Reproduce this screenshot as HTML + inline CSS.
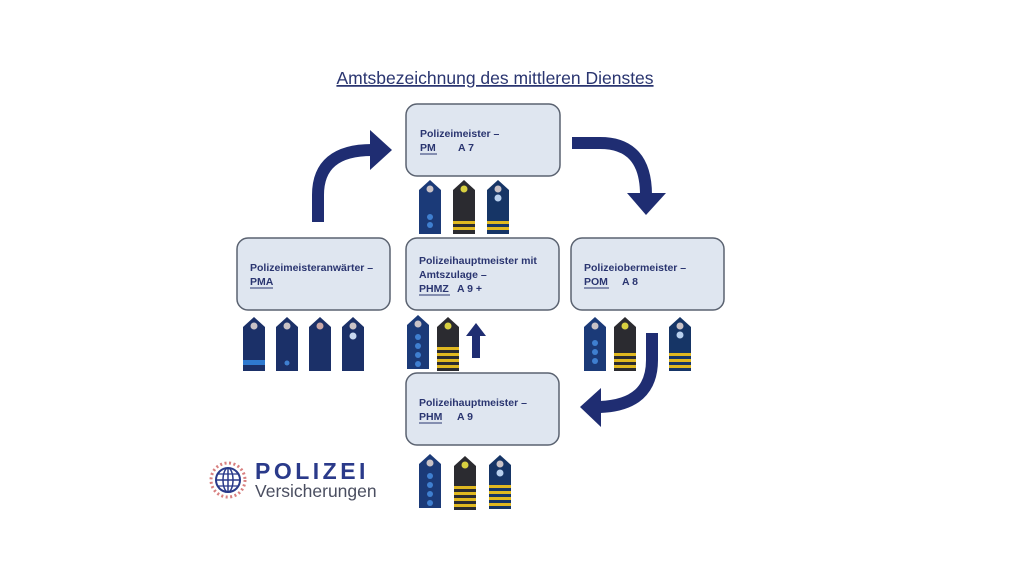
<!DOCTYPE html>
<html><head><meta charset="utf-8"><style>
html,body{margin:0;padding:0;background:#fff;}
svg{display:block;}
text{font-family:"Liberation Sans",sans-serif;}
</style></head><body>
<svg width="1030" height="579" viewBox="0 0 1030 579" xmlns="http://www.w3.org/2000/svg">
<defs>
<path id="ep" d="M0,10 L11,0 L22,10 L22,54 L0,54 Z"/>
</defs>
<text x="495" y="84" text-anchor="middle" font-size="17.5" fill="#2a3570" text-decoration="underline">Amtsbezeichnung des mittleren Dienstes</text>

<g fill="#dfe6f0" stroke="#5a6270" stroke-width="1.5">
<rect x="406" y="104" width="154" height="72" rx="11"/>
<rect x="237" y="238" width="153" height="72" rx="11"/>
<rect x="406" y="238" width="153" height="72" rx="11"/>
<rect x="571" y="238" width="153" height="72" rx="11"/>
<rect x="406" y="373" width="153" height="72" rx="11"/>
</g>
<g font-size="10.5" font-weight="bold" fill="#2a3570">
<text x="420" y="137">Polizeimeister –</text>
<text x="420" y="151">PM</text><text x="458" y="151">A 7</text>
<line x1="420" y1="154" x2="437" y2="154" stroke="#2a3570" stroke-width="1"/>
<text x="250" y="271">Polizeimeisteranwärter –</text>
<text x="250" y="285">PMA</text>
<line x1="250" y1="288" x2="273" y2="288" stroke="#2a3570" stroke-width="1"/>
<text x="419" y="264">Polizeihauptmeister mit</text>
<text x="419" y="278">Amtszulage –</text>
<text x="419" y="292">PHMZ</text><text x="457" y="292">A 9 +</text>
<line x1="419" y1="295" x2="450" y2="295" stroke="#2a3570" stroke-width="1"/>
<text x="584" y="271">Polizeiobermeister –</text>
<text x="584" y="285">POM</text><text x="622" y="285">A 8</text>
<line x1="584" y1="288" x2="609" y2="288" stroke="#2a3570" stroke-width="1"/>
<text x="419" y="406">Polizeihauptmeister –</text>
<text x="419" y="420">PHM</text><text x="457" y="420">A 9</text>
<line x1="419" y1="423" x2="442" y2="423" stroke="#2a3570" stroke-width="1"/>
</g>

<!-- arrows -->
<g fill="none" stroke="#1f2d72" stroke-width="12">
<path d="M318,222 L318,195 Q318,150 372,150"/>
<path d="M572,143 L600,143 Q646,143 646,195"/>
<path d="M652,333 L652,360 Q652,405 600,407"/>
</g>
<g fill="#1f2d72">
<polygon points="370,130 392,150 370,170"/>
<polygon points="627,193 666,193 646,215"/>
<polygon points="601,388 601,427 580,407"/>
<polygon points="476,323 466,336 472,336 472,358 480,358 480,336 486,336"/>
</g>

<!-- epaulettes -->
<g>
<g transform="translate(419,180)"><use href="#ep" fill="#1b3a78"/><circle cx="11" cy="9" r="3.5" fill="#c9c2c6"/><circle cx="11" cy="37" r="3" fill="#3f7fd0"/><circle cx="11" cy="45" r="3" fill="#3f7fd0"/></g>
<g transform="translate(453,180)"><use href="#ep" fill="#2b2b30"/><circle cx="11" cy="9" r="3.5" fill="#d8d040"/><rect x="0" y="41" width="22" height="3" fill="#e0b820"/><rect x="0" y="47" width="22" height="3" fill="#e0b820"/></g>
<g transform="translate(487,180)"><use href="#ep" fill="#163566"/><circle cx="11" cy="9" r="3.5" fill="#c9c2c6"/><circle cx="11" cy="18" r="3.5" fill="#b8d0ee"/><rect x="0" y="41" width="22" height="3" fill="#e0b820"/><rect x="0" y="47" width="22" height="3" fill="#e0b820"/></g>
<g transform="translate(243,317)"><use href="#ep" fill="#1b3068"/><circle cx="11" cy="9" r="3.5" fill="#c9c2c6"/><rect x="0" y="43" width="22" height="5" fill="#2f7ad0"/></g>
<g transform="translate(276,317)"><use href="#ep" fill="#1b3068"/><circle cx="11" cy="9" r="3.5" fill="#c9c2c6"/><circle cx="11" cy="46" r="2.5" fill="#3f7fd0"/></g>
<g transform="translate(309,317)"><use href="#ep" fill="#1b3068"/><circle cx="11" cy="9" r="3.5" fill="#c9a7a7"/></g>
<g transform="translate(342,317)"><use href="#ep" fill="#1b3068"/><circle cx="11" cy="9" r="3.5" fill="#c9c2c6"/><circle cx="11" cy="19" r="3.5" fill="#c8d8f0"/></g>
<g transform="translate(407,315)"><use href="#ep" fill="#1b3a78"/><circle cx="11" cy="9" r="3.5" fill="#c9c2c6"/><circle cx="11" cy="22" r="3" fill="#3f7fd0"/><circle cx="11" cy="31" r="3" fill="#3f7fd0"/><circle cx="11" cy="40" r="3" fill="#3f7fd0"/><circle cx="11" cy="49" r="3" fill="#3f7fd0"/></g>
<g transform="translate(437,317)"><use href="#ep" fill="#2b2b30"/><circle cx="11" cy="9" r="3.5" fill="#d8d040"/><rect x="0" y="30" width="22" height="3" fill="#e0b820"/><rect x="0" y="36" width="22" height="3" fill="#e0b820"/><rect x="0" y="42" width="22" height="3" fill="#e0b820"/><rect x="0" y="48" width="22" height="3" fill="#e0b820"/></g>
<g transform="translate(584,317)"><use href="#ep" fill="#1b3a78"/><circle cx="11" cy="9" r="3.5" fill="#c9c2c6"/><circle cx="11" cy="26" r="3" fill="#3f7fd0"/><circle cx="11" cy="35" r="3" fill="#3f7fd0"/><circle cx="11" cy="44" r="3" fill="#3f7fd0"/></g>
<g transform="translate(614,317)"><use href="#ep" fill="#2b2b30"/><circle cx="11" cy="9" r="3.5" fill="#d8d040"/><rect x="0" y="36" width="22" height="3" fill="#e0b820"/><rect x="0" y="42" width="22" height="3" fill="#e0b820"/><rect x="0" y="48" width="22" height="3" fill="#e0b820"/></g>
<g transform="translate(669,317)"><use href="#ep" fill="#163566"/><circle cx="11" cy="9" r="3.5" fill="#c9c2c6"/><circle cx="11" cy="18" r="3.5" fill="#b8d0ee"/><rect x="0" y="36" width="22" height="3" fill="#e0b820"/><rect x="0" y="42" width="22" height="3" fill="#e0b820"/><rect x="0" y="48" width="22" height="3" fill="#e0b820"/></g>
<g transform="translate(419,454)"><use href="#ep" fill="#1b3a78"/><circle cx="11" cy="9" r="3.5" fill="#c9c2c6"/><circle cx="11" cy="22" r="3" fill="#3f7fd0"/><circle cx="11" cy="31" r="3" fill="#3f7fd0"/><circle cx="11" cy="40" r="3" fill="#3f7fd0"/><circle cx="11" cy="49" r="3" fill="#3f7fd0"/></g>
<g transform="translate(454,456)"><use href="#ep" fill="#2b2b30"/><circle cx="11" cy="9" r="3.5" fill="#d8d040"/><rect x="0" y="30" width="22" height="3" fill="#e0b820"/><rect x="0" y="36" width="22" height="3" fill="#e0b820"/><rect x="0" y="42" width="22" height="3" fill="#e0b820"/><rect x="0" y="48" width="22" height="3" fill="#e0b820"/></g>
<g transform="translate(489,455)"><use href="#ep" fill="#163566"/><circle cx="11" cy="9" r="3.5" fill="#c9c2c6"/><circle cx="11" cy="18" r="3.5" fill="#b8d0ee"/><rect x="0" y="30" width="22" height="3" fill="#e0b820"/><rect x="0" y="36" width="22" height="3" fill="#e0b820"/><rect x="0" y="42" width="22" height="3" fill="#e0b820"/><rect x="0" y="48" width="22" height="3" fill="#e0b820"/></g>
</g>

<!-- logo -->
<g transform="translate(228,480)">
<circle r="17" fill="none" stroke="#d88080" stroke-width="3" stroke-dasharray="2 2.5"/>
<circle r="12" fill="none" stroke="#2a3a8a" stroke-width="2"/>
<ellipse rx="5" ry="12" fill="none" stroke="#2a3a8a" stroke-width="1.5"/>
<line x1="-12" y1="0" x2="12" y2="0" stroke="#2a3a8a" stroke-width="1.5"/>
<line x1="-10" y1="-6" x2="10" y2="-6" stroke="#2a3a8a" stroke-width="1.3"/>
<line x1="-10" y1="6" x2="10" y2="6" stroke="#2a3a8a" stroke-width="1.3"/>
<line x1="0" y1="-12" x2="0" y2="12" stroke="#2a3a8a" stroke-width="1.5"/>
</g>
<text x="255" y="479" font-size="23" font-weight="bold" fill="#2a3a8a" letter-spacing="3.5">POLIZEI</text>
<text x="255" y="497" font-size="17.5" fill="#4a4e60">Versicherungen</text>
</svg>
</body></html>
